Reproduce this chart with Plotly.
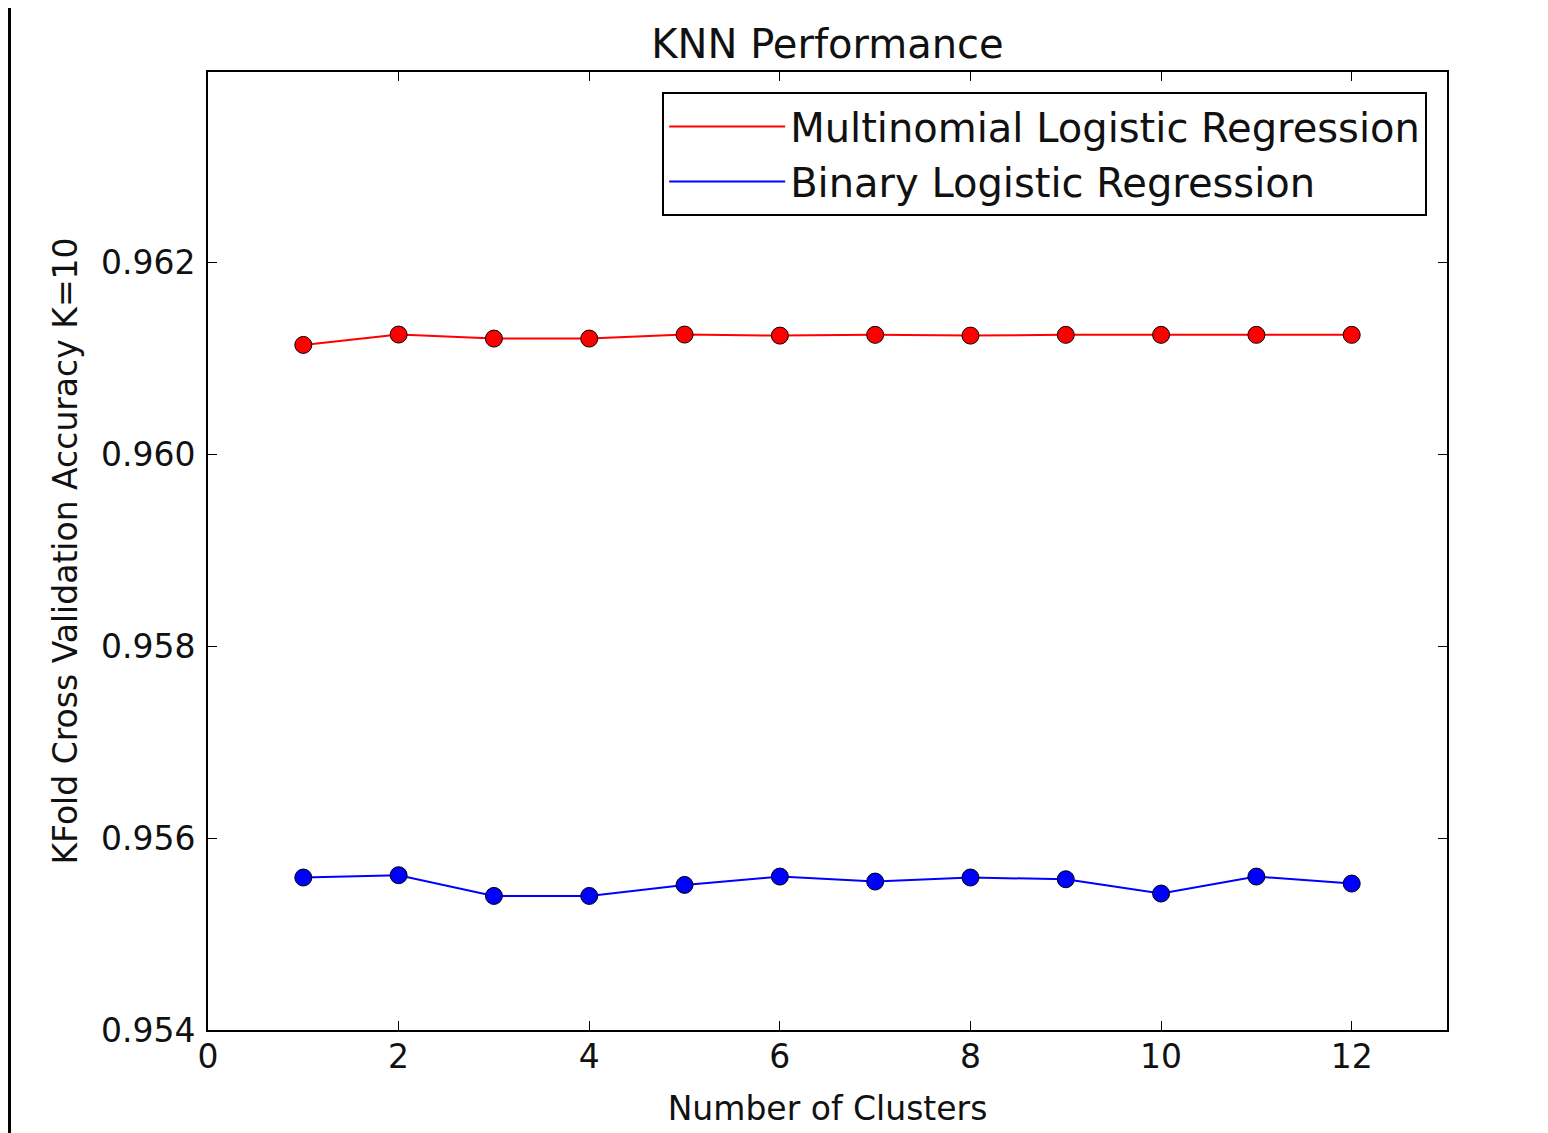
import plotly.graph_objects as go

clusters = [1, 2, 3, 4, 5, 6, 7, 8, 9, 10, 11, 12]
multinomial = [0.961144, 0.961252, 0.961210, 0.961210, 0.961252, 0.961241,
               0.961249, 0.961241, 0.961249, 0.961249, 0.961249, 0.961249]
binary = [0.955590, 0.955614, 0.955398, 0.955398, 0.955513, 0.955600,
          0.955548, 0.955590, 0.955572, 0.955423, 0.955600, 0.955527]
xticks = [0, 2, 4, 6, 8, 10, 12]
yticks = [0.954, 0.956, 0.958, 0.960, 0.962]
ytick_text = ["0.954", "0.956", "0.958", "0.960", "0.962"]

FONT = "DejaVu Sans"
fig = go.Figure()
for name, vals, col in [("Multinomial Logistic Regression", multinomial, "#ff0000"),
                        ("Binary Logistic Regression", binary, "#0000ff")]:
    fig.add_trace(go.Scatter(x=clusters, y=vals, mode="lines", name=name,
                             line=dict(color=col, width=2)))
    fig.add_trace(go.Scatter(x=clusters, y=vals, mode="markers", showlegend=False,
                             marker=dict(color=col, size=17,
                                         line=dict(color="#000000", width=1))))

axis_common = dict(showgrid=False, zeroline=False, showline=True, linecolor="black",
                   linewidth=2, mirror="ticks", ticks="inside", ticklen=9,
                   tickwidth=1, tickcolor="black",
                   tickfont=dict(family=FONT, size=33, color="#111111"))
fig.update_xaxes(range=[0, 13], tickvals=xticks, ticklabelstandoff=-4,
                 title=dict(text="Number of Clusters",
                            font=dict(family=FONT, size=33, color="#111111"), standoff=22),
                 **axis_common)
fig.update_yaxes(range=[0.954, 0.96399], tickvals=yticks, ticktext=ytick_text,
                 ticklabelstandoff=4,
                 title=dict(text="KFold Cross Validation Accuracy K=10",
                            font=dict(family=FONT, size=33, color="#111111"), standoff=13),
                 **axis_common)

# black frame edge at the far left of the image
fig.add_shape(type="line", xref="paper", yref="paper",
              x0=-0.1602, x1=-0.1602, y0=-0.12, y1=1.08,
              line=dict(color="black", width=3))

fig.update_layout(
    width=1540, height=1125,
    margin=dict(l=200, r=101, t=64, b=101),
    paper_bgcolor="white", plot_bgcolor="white",
    title=dict(text="KNN Performance", x=0.5, xanchor="center", xref="paper",
               y=1 - 36 / 1125, yanchor="middle",
               font=dict(family=FONT, size=40, color="#111111")),
    legend=dict(x=0.984, y=0.979, xanchor="right", yanchor="top",
                bordercolor="black", borderwidth=2, bgcolor="white",
                font=dict(family=FONT, size=40, color="#111111"),
                itemwidth=116, tracegroupgap=0),
    showlegend=True,
)

fig.write_html("out.html")
